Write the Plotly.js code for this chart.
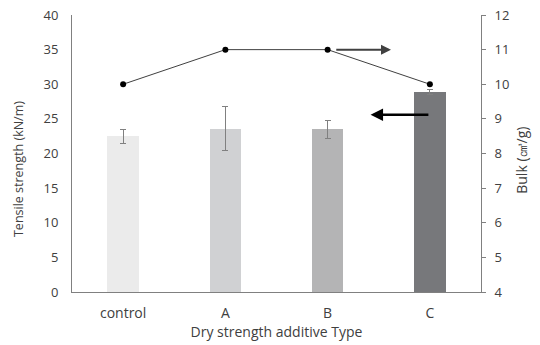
<!DOCTYPE html>
<html><head><meta charset="utf-8">
<script src="https://cdn.plot.ly/plotly-3.0.1.min.js"></script>
<style>body{margin:0;}#chart{width:540px;height:345px;}</style>
</head><body><div id="chart"></div>
<script>
const categories = ["control", "A", "B", "C"];
const tensile = [22.5, 23.6, 23.5, 28.9];
const tensileErr = [1.0, 3.2, 1.3, 0.4];
const bulk = [10, 11, 11, 10];
const barColors = ["#ebebeb", "#d0d1d3", "#b4b4b5", "#77787b"];

const fam = "Open Sans, Liberation Sans, sans-serif";
const font = {family: fam, size: 13, color: "#404040"};
const font14 = {family: fam, size: 14, color: "#404040"};

const traces = [
  {type: "bar", x: categories, y: tensile, marker: {color: barColors}, width: 0.31,
   error_y: {type: "data", array: tensileErr, visible: true, color: "#808080", thickness: 1, width: 3},
   hoverinfo: "skip", showlegend: false},
  {type: "scatter", mode: "lines+markers", x: categories, y: bulk, yaxis: "y2",
   line: {color: "#404040", width: 1}, marker: {color: "#000", size: 6},
   showlegend: false}
];

const layout = {
  width: 540, height: 345,
  margin: {l: 72, r: 59, t: 15, b: 53},
  paper_bgcolor: "#fff", plot_bgcolor: "#fff",
  font: font,
  bargap: 0,
  xaxis: {type: "category", showline: true, linecolor: "#808080", linewidth: 1, ticks: "",
          showgrid: false, zeroline: false, tickfont: font14, ticklabelstandoff: 8,
          title: {text: "Dry strength additive Type", font: font14, standoff: 6}},
  yaxis: {range: [0, 40], dtick: 5, showline: true, linecolor: "#808080", linewidth: 1,
          ticks: "", showgrid: false, zeroline: false, tickfont: font, ticklabelstandoff: 10},
  yaxis2: {range: [4, 12], dtick: 1, overlaying: "y", side: "right", showline: true,
           linecolor: "#808080", linewidth: 1, ticks: "outside", ticklen: 4, tickcolor: "#808080",
           showgrid: false, zeroline: false, tickfont: font, ticklabelstandoff: 6},
  annotations: [
    {text: "Tensile strength (kN/m)", xref: "paper", yref: "paper", x: -0.132, y: 0.444,
     showarrow: false, textangle: -90, font: {family: fam, size: 12.5, color: "#404040"},
     xanchor: "center", yanchor: "middle"},
    {text: "Bulk (㎤/g)", xref: "paper", yref: "paper", x: 1.100, y: 0.477,
     showarrow: false, textangle: -90, font: font14, xanchor: "center", yanchor: "middle"},
    {x: 2.62, y: 11, xref: "x", yref: "y2", ax: 2.07, ay: 11, axref: "x", ayref: "y2",
     showarrow: true, arrowhead: 2, arrowsize: 1, arrowwidth: 2, arrowcolor: "#404040", text: ""},
    {x: 2.42, y: 25.6, xref: "x", yref: "y", ax: 3.0, ay: 25.6, axref: "x", ayref: "y",
     showarrow: true, arrowhead: 2, arrowsize: 1, arrowwidth: 2.5, arrowcolor: "#000", text: ""}
  ]
};

Plotly.newPlot("chart", traces, layout, {displayModeBar: false, staticPlot: true});
</script></body></html>
